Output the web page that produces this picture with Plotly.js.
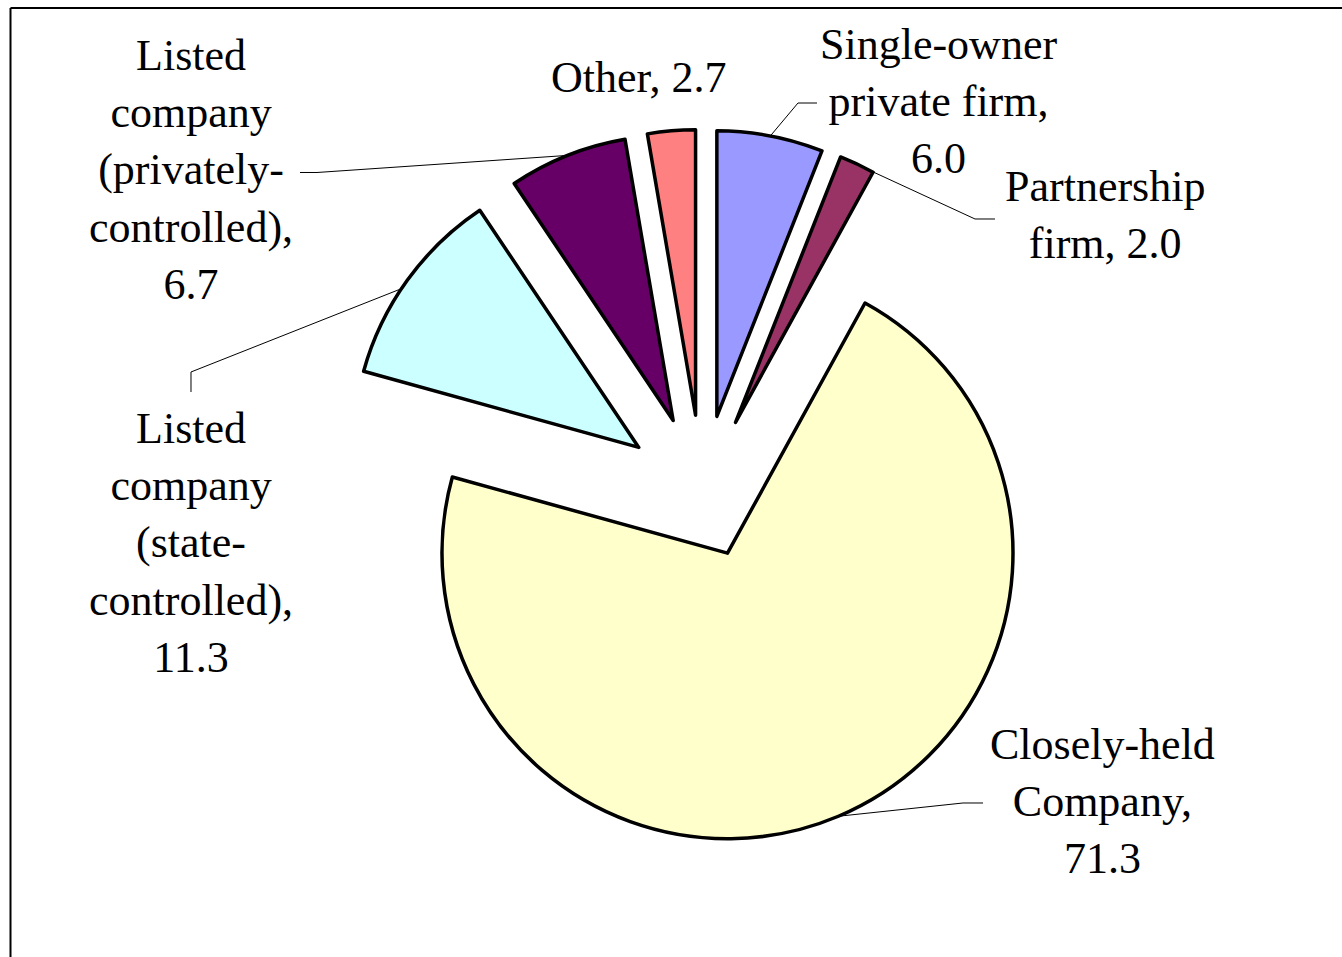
<!DOCTYPE html>
<html>
<head>
<meta charset="utf-8">
<script src="https://cdn.plot.ly/plotly-3.0.1.min.js"></script>
<style>html,body{margin:0;padding:0;background:#fff;}#chart{width:1342px;height:957px;}</style>
</head>
<body>
<div id="chart"></div>
<script>
// ---- data ----
const categories = ['Single-owner private firm', 'Partnership firm', 'Closely-held Company',
  'Listed company (state-controlled)', 'Listed company (privately-controlled)', 'Other'];
const values = [6.0, 2.0, 71.3, 11.3, 6.7, 2.7];
// how each data label is broken into lines (value appended)
const labelLines = [
  ['Single-owner', 'private firm,'],
  ['Partnership', 'firm,'],
  ['Closely-held', 'Company,'],
  ['Listed', 'company', '(state-', 'controlled),'],
  ['Listed', 'company', '(privately-', 'controlled),'],
  ['Other,']
];
// ---- style / layout ----
const colors = ['#9999FF', '#993366', '#FFFFCC', '#CCFFFF', '#660066', '#FF8080'];
const pulls = [0.274, 0.274, 0.228, 0.274, 0.274, 0.274];
const W = 1342, H = 957;
const CX = 702.2, CY = 493.2, R = 285.5;
const FONT = {family: '"Liberation Serif", "Times New Roman", serif', size: 44, color: '#000'};
// label placement (pixel centre), whether value sits on the last label line
const labelPos = [[938, 101], [1105, 215], [1102, 801], [191, 543], [191, 170], [638, 78]];
const valueInline = [false, true, false, false, false, true];
// leader lines: label-side points, and where on the slice they attach (fraction of slice angle)
const leaderLabelPts = [
  [[817, 103], [798, 103]],
  [[995, 219], [975, 219]],
  [[983, 803], [963, 803]],
  [[191, 392], [191, 372]],
  [[300, 172.5], [317, 172.5]],
  null
];
const attachFrac = [0.5, 0.87, 0.5, 0.45, 0.5, 0.5];

const maxPull = Math.max(...pulls);
const half = R * (1 + maxPull);
const domain = {
  x: [(CX - half) / W, (CX + half) / W],
  y: [1 - (CY + half) / H, 1 - (CY - half) / H]
};

const trace = {
  type: 'pie',
  labels: categories,
  values: values,
  sort: false,
  direction: 'clockwise',
  rotation: 0,
  pull: pulls,
  marker: {colors: colors, line: {color: '#000', width: 3.5}},
  textinfo: 'none',
  hoverinfo: 'label+value',
  domain: domain
};

// geometry of slices from the data
const total = values.reduce((a, b) => a + b, 0);
const px = x => x / W, py = y => 1 - y / H;
const shapes = [];
const annotations = [];
let cum = 0;
values.forEach((v, i) => {
  const a0 = cum / total * 360, a1 = (cum + v) / total * 360;
  cum += v;
  const mid = (a0 + a1) / 2 * Math.PI / 180;
  const scx = CX + pulls[i] * R * Math.sin(mid);
  const scy = CY - pulls[i] * R * Math.cos(mid);
  const att = (a0 + attachFrac[i] * (a1 - a0)) * Math.PI / 180;
  const ex = scx + R * Math.sin(att), ey = scy - R * Math.cos(att);
  if (leaderLabelPts[i]) {
    const pts = leaderLabelPts[i].concat([[ex, ey]]);
    const path = pts.map((p, k) => (k ? 'L' : 'M') + px(p[0]).toFixed(5) + ',' + py(p[1]).toFixed(5)).join(' ');
    shapes.push({type: 'path', xref: 'paper', yref: 'paper', path: path,
      line: {color: '#000', width: 1}});
  }
  const lines = labelLines[i].slice();
  const val = v.toFixed(1);
  if (valueInline[i]) lines[lines.length - 1] += ' ' + val; else lines.push(val);
  annotations.push({
    xref: 'paper', yref: 'paper', x: px(labelPos[i][0]), y: py(labelPos[i][1]),
    xanchor: 'center', yanchor: 'middle', align: 'center', showarrow: false,
    text: lines.join('<br>'), font: FONT
  });
});

// chart frame
shapes.push({type: 'line', xref: 'paper', yref: 'paper', x0: px(10.5), x1: 1.01, y0: py(8), y1: py(8), line: {color: '#000', width: 2}});
shapes.push({type: 'line', xref: 'paper', yref: 'paper', x0: px(10.5), x1: px(10.5), y0: py(8), y1: -0.01, line: {color: '#000', width: 2}});

const layout = {
  width: W, height: H,
  margin: {l: 0, r: 0, t: 0, b: 0},
  paper_bgcolor: '#fff',
  showlegend: false,
  shapes: shapes,
  annotations: annotations
};
Plotly.newPlot('chart', [trace], layout, {displayModeBar: false, staticPlot: true});
</script>
</body>
</html>
